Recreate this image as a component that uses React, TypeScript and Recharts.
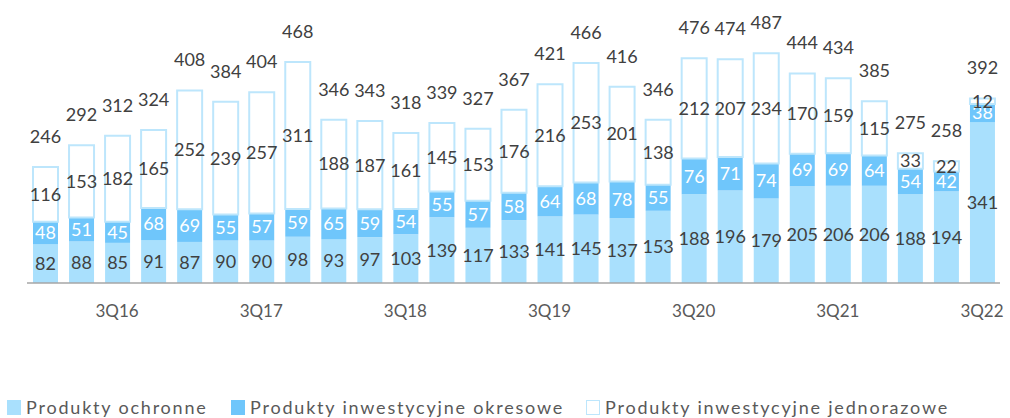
import { Bar, BarChart, LabelList, XAxis, YAxis } from 'recharts';

const quarters = [
  '1Q16', '2Q16', '3Q16', '4Q16',
  '1Q17', '2Q17', '3Q17', '4Q17',
  '1Q18', '2Q18', '3Q18', '4Q18',
  '1Q19', '2Q19', '3Q19', '4Q19',
  '1Q20', '2Q20', '3Q20', '4Q20',
  '1Q21', '2Q21', '3Q21', '4Q21',
  '1Q22', '2Q22', '3Q22',
];

const ochronne = [
  82, 88, 85, 91, 87, 90, 90, 98, 93, 97, 103, 139, 117, 133, 141, 145, 137,
  153, 188, 196, 179, 205, 206, 206, 188, 194, 341,
];

const okresowe = [
  48, 51, 45, 68, 69, 55, 57, 59, 65, 59, 54, 55, 57, 58, 64, 68, 78, 55, 76,
  71, 74, 69, 69, 64, 54, 42, 38,
];

const jednorazowe = [
  116, 153, 182, 165, 252, 239, 257, 311, 188, 187, 161, 145, 153, 176, 216,
  253, 201, 138, 212, 207, 234, 170, 159, 115, 33, 22, 12,
];

const totals = [
  246, 292, 312, 324, 408, 384, 404, 468, 346, 343, 318, 339, 327, 367, 421,
  466, 416, 346, 476, 474, 487, 444, 434, 385, 275, 258, 392,
];

const LIGHT = '#a9e0fd';
const MID = '#6fc6fb';
const EDGE = '#bde6fc';
const FONT = 'Lato, "Open Sans", sans-serif';

const chartData = quarters.map((q, i) => ({
  q,
  ochronne: ochronne[i],
  okresowe: okresowe[i],
  jednorazowe: jednorazowe[i],
  total: totals[i],
}));

const legendItems = [
  { name: 'Produkty ochronne', fill: LIGHT, stroke: LIGHT, left: 7 },
  { name: 'Produkty inwestycyjne okresowe', fill: MID, stroke: MID, left: 231 },
  { name: 'Produkty inwestycyjne jednorazowe', fill: '#fff', stroke: EDGE, left: 586 },
];

// total nad słupkiem
const TotalLabel = (props: any) => {
  const { x, y, width, value } = props;
  return (
    <text
      x={x + width / 2}
      y={y - 31}
      textAnchor='middle'
      dominantBaseline='central'
      fill='#404040'
      fontSize={18}
      fontFamily={FONT}
    >
      {value}
    </text>
  );
};

export default function App() {
  return (
    <div
      style={{
        position: 'absolute',
        left: 0,
        top: 0,
        width: 1010,
        height: 418,
        background: '#fff',
        fontFamily: FONT,
      }}
    >
      <BarChart
        width={1010}
        height={418}
        data={chartData}
        margin={{ top: 47, right: 10, bottom: 95, left: 27 }}
      >
        <XAxis
          dataKey='q'
          interval={0}
          tickFormatter={(v: string) => (v.startsWith('3Q') ? v : '')}
          tickLine={false}
          tickSize={0}
          tickMargin={22}
          height={40}
          stroke='#a6a6a6'
          strokeWidth={1.5}
          tick={{ fill: '#595959', fontSize: 17, fontFamily: FONT }}
        />
        <YAxis hide domain={[0, 500]} />

        <Bar dataKey='ochronne' stackId='s' fill={LIGHT} barSize={25} isAnimationActive={false}>
          <LabelList
            dataKey='ochronne'
            position='center'
            fill='#404040'
            fontSize={18}
            fontFamily={FONT}
          />
        </Bar>
        <Bar dataKey='okresowe' stackId='s' fill={MID} barSize={25} isAnimationActive={false}>
          <LabelList
            dataKey='okresowe'
            position='center'
            fill='#ffffff'
            fontSize={18}
            fontFamily={FONT}
          />
        </Bar>
        <Bar
          dataKey='jednorazowe'
          stackId='s'
          fill='#ffffff'
          stroke={EDGE}
          strokeWidth={2}
          barSize={25}
          isAnimationActive={false}
        >
          <LabelList
            dataKey='jednorazowe'
            position='center'
            fill='#404040'
            fontSize={18}
            fontFamily={FONT}
          />
          <LabelList dataKey='total' content={TotalLabel} />
        </Bar>
      </BarChart>

      {legendItems.map((item) => (
        <div
          key={item.name}
          style={{
            position: 'absolute',
            left: item.left,
            top: 396,
            display: 'flex',
            alignItems: 'center',
            color: '#595959',
            fontSize: 18,
            letterSpacing: 1.8,
            whiteSpace: 'nowrap',
          }}
        >
          <span
            style={{
              display: 'inline-block',
              width: 12,
              height: 13,
              background: item.fill,
              border: `1.5px solid ${item.stroke}`,
              marginRight: 5,
            }}
          />
          <span>{item.name}</span>
        </div>
      ))}
    </div>
  );
}
